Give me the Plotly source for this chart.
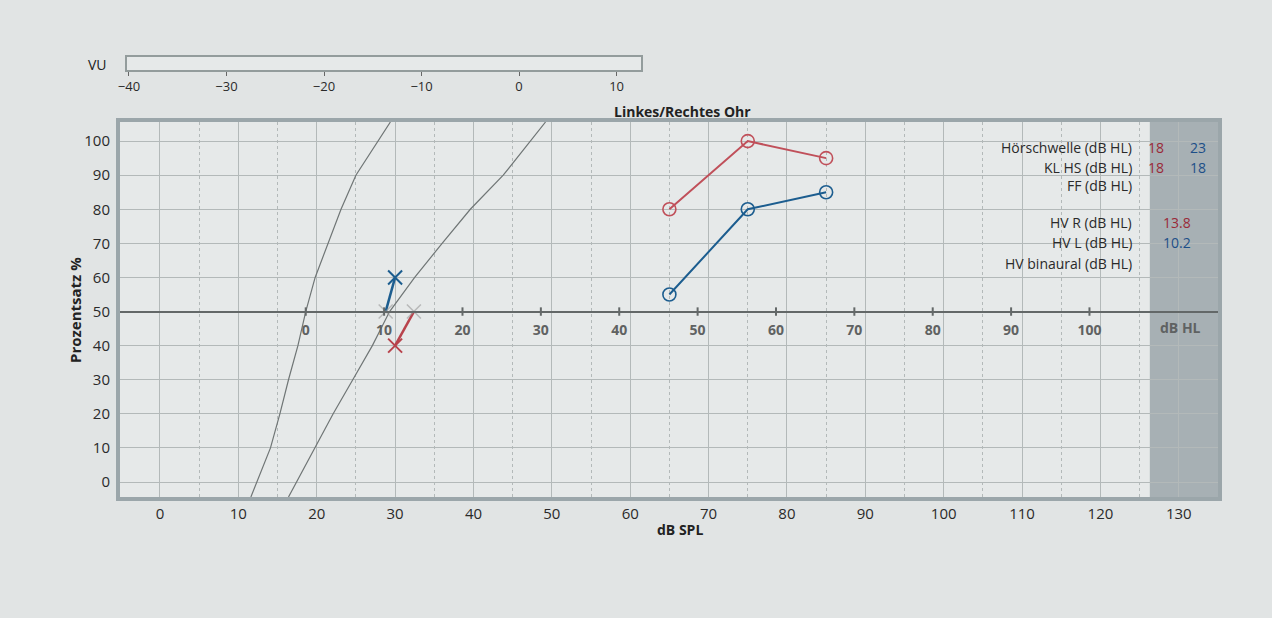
import plotly.graph_objects as go

W, H = 1272, 618
ML, MR, MT, MB = 120, 54, 20, 121

# Normkurven (dB SPL, %)
zahlen_norm_spl = [11.6, 14.1, 15.3, 16.4, 17.6, 18.6, 19.8, 21.4, 23.1, 25.0, 29.4]
zahlen_norm_pct = [-4.4, 10, 20, 30, 40, 50, 60, 70, 80, 90, 105.6]
einsilber_norm_spl = [16.4, 22.1, 24.6, 27.1, 29.3, 32.5, 36.0, 39.6, 43.8, 49.2]
einsilber_norm_pct = [-4.4, 20, 30, 40, 50, 60, 70, 80, 90, 105.6]

# Zahlentest: Messpunkt -> 50%-Punkt
zahlen_r_spl = [30, 32.4]
zahlen_r_pct = [40, 50]
zahlen_l_spl = [30, 28.8]
zahlen_l_pct = [60, 50]

# Einsilbertest
einsilber_spl = [65, 75, 85]
einsilber_r_pct = [80, 100, 95]
einsilber_l_pct = [55, 80, 85]

spl_ticks = list(range(0, 140, 10))
hl_ticks = list(range(0, 110, 10))
pct_ticks = list(range(0, 110, 10))
vu_ticks = [-40, -30, -20, -10, 0, 10]
vu_level = [0]

info_labels = ['Hörschwelle (dB HL)', 'KL HS (dB HL)', 'FF (dB HL)',
               'HV R (dB HL)', 'HV L (dB HL)', 'HV binaural (dB HL)']
info_rows_y = [147, 167, 186, 222, 242, 263]
info_rechts = ['18', '18', '', '13.8', '', '']
info_links = ['23', '18', '', '', '10.2', '']

HL_OFFSET = 18.6
X_RANGE = [-5.1, 135.0]
Y_RANGE = [-4.4, 105.6]
GRAU_AB = 126.3

ROT = '#b8434c'
ROT_TXT = '#9a2a38'
BLAU = '#1c5d8f'
BLAU_TXT = '#1d4f88'
GRID = '#b3b9b9'
ACHSE50 = '#636868'
FONT = 'Open Sans, Noto Sans, sans-serif'


def px_x(x):
    return (x - ML) / (W - ML - MR)


def px_y(y):
    return (H - MB - y) / (H - MT - MB)


main_top = px_y(122)
pos50 = main_top * (50 - Y_RANGE[0]) / (Y_RANGE[1] - Y_RANGE[0])

fig = go.Figure()

fig.add_trace(go.Scatter(x=zahlen_norm_spl, y=zahlen_norm_pct, mode='lines',
                         line=dict(color='#6f7575', width=1.2)))
fig.add_trace(go.Scatter(x=einsilber_norm_spl, y=einsilber_norm_pct, mode='lines',
                         line=dict(color='#6f7575', width=1.2)))

# Teilstriche der dB-HL-Achse auf der 50%-Linie
fig.add_trace(go.Scatter(x=hl_ticks, y=[50] * len(hl_ticks), mode='markers', xaxis='x2', yaxis='y',
                         marker=dict(symbol='line-ns', size=6, line=dict(color=ACHSE50, width=2))))

# Zahlen
for xs, ys, col in [(zahlen_l_spl, zahlen_l_pct, BLAU), (zahlen_r_spl, zahlen_r_pct, ROT)]:
    fig.add_trace(go.Scatter(x=xs, y=ys, mode='lines', line=dict(color=col, width=2.5)))
    fig.add_trace(go.Scatter(x=xs[1:], y=ys[1:], mode='markers',
                             marker=dict(symbol='x-thin', size=14, opacity=0.6,
                                         line=dict(color='#9a9a9a', width=1.5))))
    fig.add_trace(go.Scatter(x=xs[:1], y=ys[:1], mode='markers',
                             marker=dict(symbol='x-thin', size=14,
                                         line=dict(color=col, width=2))))

# Einsilber
for ys, col in [(einsilber_r_pct, '#c0505a'), (einsilber_l_pct, BLAU)]:
    fig.add_trace(go.Scatter(x=einsilber_spl, y=ys, mode='lines+markers',
                             line=dict(color=col, width=2),
                             marker=dict(symbol='circle-open', size=13,
                                         line=dict(color=col, width=1.6))))

# VU-Anzeige
fig.add_trace(go.Scatter(x=vu_level * 2, y=[1.2, -0.3], mode='markers', xaxis='x3', yaxis='y3',
                         cliponaxis=False,
                         marker=dict(symbol='line-ns', size=6, line=dict(color='#111', width=4))))

fig.add_shape(type='rect', xref='x', yref='y domain', x0=GRAU_AB, x1=X_RANGE[1], y0=0, y1=1,
              fillcolor='#a7b0b4', line_width=0, layer='below')

annots = [
    dict(text='VU', x=px_x(97), y=px_y(64), font=dict(size=14, color='#222')),
    dict(text='<b>Linkes/Rechtes Ohr</b>', x=px_x(682), y=px_y(111), font=dict(size=14, color='#222')),
    dict(text='<b>Prozentsatz %</b>', x=px_x(75), y=px_y(310), textangle=-90,
         font=dict(size=15, color='#222')),
    dict(text='<b>dB SPL</b>', x=px_x(680), y=px_y(529), font=dict(size=14, color='#222')),
    dict(text='<b>dB HL</b>', x=px_x(1180), y=px_y(328), font=dict(size=14, color='#5f6262')),
]
for lab, yy in zip(info_labels, info_rows_y):
    annots.append(dict(text=lab, x=px_x(1134), y=px_y(yy), xanchor='right',
                       font=dict(size=14, color='#2a2a2a')))
for i, yy in enumerate(info_rows_y):
    r, l = info_rechts[i], info_links[i]
    if r and l:
        annots.append(dict(text=r, x=px_x(1156), y=px_y(yy), font=dict(size=14, color=ROT_TXT)))
        annots.append(dict(text=l, x=px_x(1198), y=px_y(yy), font=dict(size=14, color=BLAU_TXT)))
    elif r:
        annots.append(dict(text=r, x=px_x(1177), y=px_y(yy), font=dict(size=14, color=ROT_TXT)))
    elif l:
        annots.append(dict(text=l, x=px_x(1177), y=px_y(yy), font=dict(size=14, color=BLAU_TXT)))
for a in annots:
    a.update(xref='paper', yref='paper', showarrow=False)
    a.setdefault('xanchor', 'center')
    a['yanchor'] = 'middle'

fig.update_layout(
    width=W, height=H,
    margin=dict(l=ML, r=MR, t=MT, b=MB),
    paper_bgcolor='#e1e4e4',
    plot_bgcolor='#e6e9e9',
    font=dict(family=FONT, color='#2a2a2a', size=14),
    showlegend=False,
    annotations=annots,
    xaxis=dict(domain=[0, 1], range=X_RANGE, tickvals=spl_ticks, showgrid=True,
               gridcolor=GRID, gridwidth=1, zeroline=False,
               showline=True, mirror=True, linecolor='#9ba6aa', linewidth=4,
               ticks='', ticklabelstandoff=0, tickfont=dict(size=15),
               minor=dict(dtick=5, tick0=0, showgrid=True, griddash='dot', gridcolor=GRID)),
    yaxis=dict(domain=[0, main_top], range=Y_RANGE, tickvals=pct_ticks, showgrid=True,
               gridcolor=GRID, zeroline=False,
               showline=True, mirror=True, linecolor='#9ba6aa', linewidth=4,
               ticks='', ticklabelstandoff=3, tickfont=dict(size=15)),
    xaxis2=dict(overlaying='x', anchor='free', position=pos50, side='bottom',
                range=[X_RANGE[0] - HL_OFFSET, X_RANGE[1] - HL_OFFSET],
                tickvals=hl_ticks, ticktext=[f'<b>{t}</b>' for t in hl_ticks],
                showgrid=False, zeroline=False, showline=True, linecolor=ACHSE50, linewidth=2,
                ticks='', ticklabelstandoff=6, tickfont=dict(size=14, color='#5f6262')),
    xaxis3=dict(domain=[px_x(127), px_x(641)], anchor='y3', range=[-40.2, 12.5],
                tickvals=vu_ticks, showgrid=False, zeroline=False,
                showline=True, mirror=True, linecolor='#939c9c', linewidth=1.5,
                ticks='outside', ticklen=4, tickcolor='#666', tickfont=dict(size=13)),
    yaxis3=dict(domain=[px_y(70), px_y(57)], anchor='x3', range=[0, 1],
                showticklabels=False, showgrid=False, zeroline=False,
                showline=True, mirror=True, linecolor='#939c9c', linewidth=1.5),
)

fig.write_html("out.html", config={'displayModeBar': False},
               post_script="document.body.style.margin='0';")
